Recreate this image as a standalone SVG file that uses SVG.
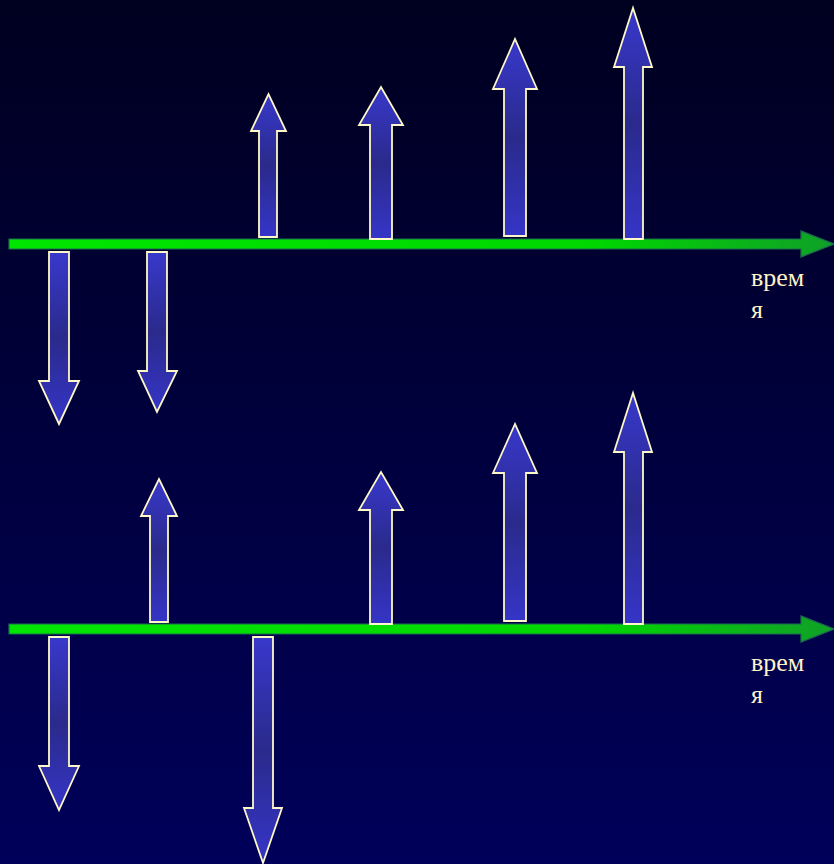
<svg xmlns="http://www.w3.org/2000/svg" width="834" height="864" viewBox="0 0 834 864">
<defs>
<linearGradient id="bg" x1="0" y1="0" x2="0" y2="1">
<stop offset="0" stop-color="#000020"/>
<stop offset="1" stop-color="#00005a"/>
</linearGradient>
<linearGradient id="ar" x1="0" y1="0" x2="0" y2="1">
<stop offset="0" stop-color="#3838cc"/>
<stop offset="0.5" stop-color="#2a2a8c"/>
<stop offset="1" stop-color="#3535c8"/>
</linearGradient>
<linearGradient id="ax" x1="0" y1="0" x2="1" y2="0">
<stop offset="0" stop-color="#00e600"/>
<stop offset="0.7" stop-color="#00d800"/>
<stop offset="1" stop-color="#10a028"/>
</linearGradient>
</defs>
<style>
.arr{fill:url(#ar);stroke:#fff8c8;stroke-width:1.8;stroke-linejoin:miter}
.axis{fill:url(#ax);stroke:#1e6a50;stroke-width:1.2}
.lbl{font-family:"Liberation Serif",serif;font-size:26px;fill:#fff2c8}
</style>
<rect width="834" height="864" fill="url(#bg)"/>
<g id="connectors">
<path class="axis" d="M9,239 H801 V231 L834,244 L801,257 V249 H9 Z"/>
<path class="axis" d="M9,624 H801 V616 L834,629 L801,642 V634 H9 Z"/>
</g>
<g id="label1"><text class="lbl" x="751" y="286">врем</text><text class="lbl" x="751" y="318">я</text></g>
<g id="label2"><text class="lbl" x="751" y="671">врем</text><text class="lbl" x="751" y="703">я</text></g>
<g id="up-a1"><path class="arr" d="M259,237 V131 H251 L268.5,94 L286,131 H277 V237 Z"/></g>
<g id="up-a2"><path class="arr" d="M370,239 V125 H359 L381,87 L403,125 H392 V239 Z"/></g>
<g id="up-a3"><path class="arr" d="M504,236 V89 H493 L515,39 L537,89 H526 V236 Z"/></g>
<g id="up-a4"><path class="arr" d="M624,239 V67 H614 L633,8 L652,67 H643 V239 Z"/></g>
<g id="down-d1"><path class="arr" d="M49,252 V381 H39 L59,424 L79,381 H69 V252 Z"/></g>
<g id="down-d2"><path class="arr" d="M147,252 V371 H138 L157,412 L177,371 H167 V252 Z"/></g>
<g id="up-b1"><path class="arr" d="M150,622 V516 H141 L159,479 L177,516 H168 V622 Z"/></g>
<g id="up-b2"><path class="arr" d="M370,624 V510 H359 L381,472 L403,510 H392 V624 Z"/></g>
<g id="up-b3"><path class="arr" d="M504,621 V473 H493 L515,424 L537,473 H526 V621 Z"/></g>
<g id="up-b4"><path class="arr" d="M624,624 V452 H614 L633,393 L652,452 H643 V624 Z"/></g>
<g id="down-e1"><path class="arr" d="M49,637 V766 H39 L59,810 L79,766 H69 V637 Z"/></g>
<g id="down-e2"><path class="arr" d="M253,637 V808 H244 L263,863 L282,808 H273 V637 Z"/></g>
</svg>
